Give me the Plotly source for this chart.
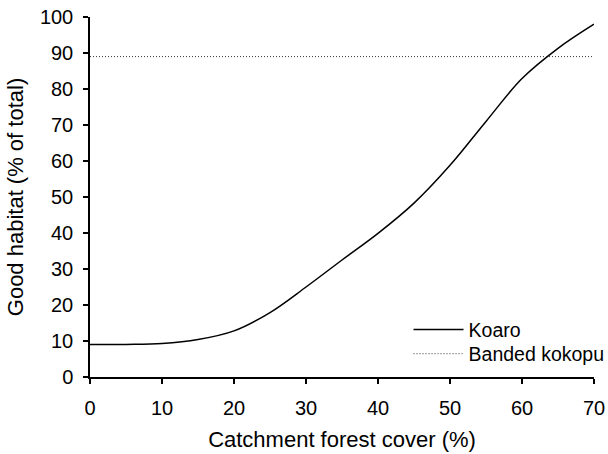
import plotly.graph_objects as go

forest_cover = [0, 5, 10, 15, 20, 25, 30, 35, 40, 45, 50, 55, 60, 65, 70]
koaro = [9.0, 9.05, 9.3, 10.4, 12.8, 17.9, 25.0, 32.5, 39.9, 48.3, 58.8, 71.0, 82.9, 91.3, 98.0]
kokopu_x = [0, 70]
kokopu_y = [89, 89]

x_ticks = [0, 10, 20, 30, 40, 50, 60, 70]
y_ticks = [0, 10, 20, 30, 40, 50, 60, 70, 80, 90, 100]

FONT = "Liberation Sans, Arial, sans-serif"

fig = go.Figure()
fig.add_trace(go.Scatter(
    x=forest_cover, y=koaro, mode="lines", name="Koaro", legend="legend",
    line=dict(color="black", width=1.5, shape="spline"),
))
fig.add_trace(go.Scatter(
    x=kokopu_x, y=kokopu_y, mode="lines", name="Banded kokopu", legend="legend2",
    line=dict(color="#333333", width=1, dash="1px,2px"),
))

axis_common = dict(
    showline=True, linecolor="black", linewidth=1.5,
    ticks="outside", ticklen=5, tickwidth=1.5, tickcolor="black",
    showgrid=False, zeroline=False, automargin=False,
    tickfont=dict(family=FONT, size=20, color="black"),
)

legend_common = dict(xanchor="left", yanchor="top", bgcolor="rgba(0,0,0,0)",
                     font=dict(family=FONT, size=19.5), itemwidth=50)

fig.update_layout(
    width=608, height=454,
    margin=dict(l=90, r=14, t=17, b=77, autoexpand=False),
    paper_bgcolor="white", plot_bgcolor="white",
    font=dict(family=FONT, size=20, color="black"),
    xaxis=dict(range=[0, 70], tickvals=x_ticks, ticklabelstandoff=7,
               title=dict(text="Catchment forest cover (%)", font=dict(family=FONT, size=22), standoff=14),
               **axis_common),
    yaxis=dict(range=[0, 100], tickvals=y_ticks, ticklabelstandoff=6,
               title=dict(text="Good habitat (% of total)", font=dict(family=FONT, size=22), standoff=10),
               **axis_common),
    legend=dict(x=0.632, y=0.185, **legend_common),
    legend2=dict(x=0.632, y=0.118, **legend_common),
    showlegend=True,
)

fig.write_html("out.html", config={"displayModeBar": False},
               post_script="document.body.style.margin='0';document.body.style.padding='0';")
